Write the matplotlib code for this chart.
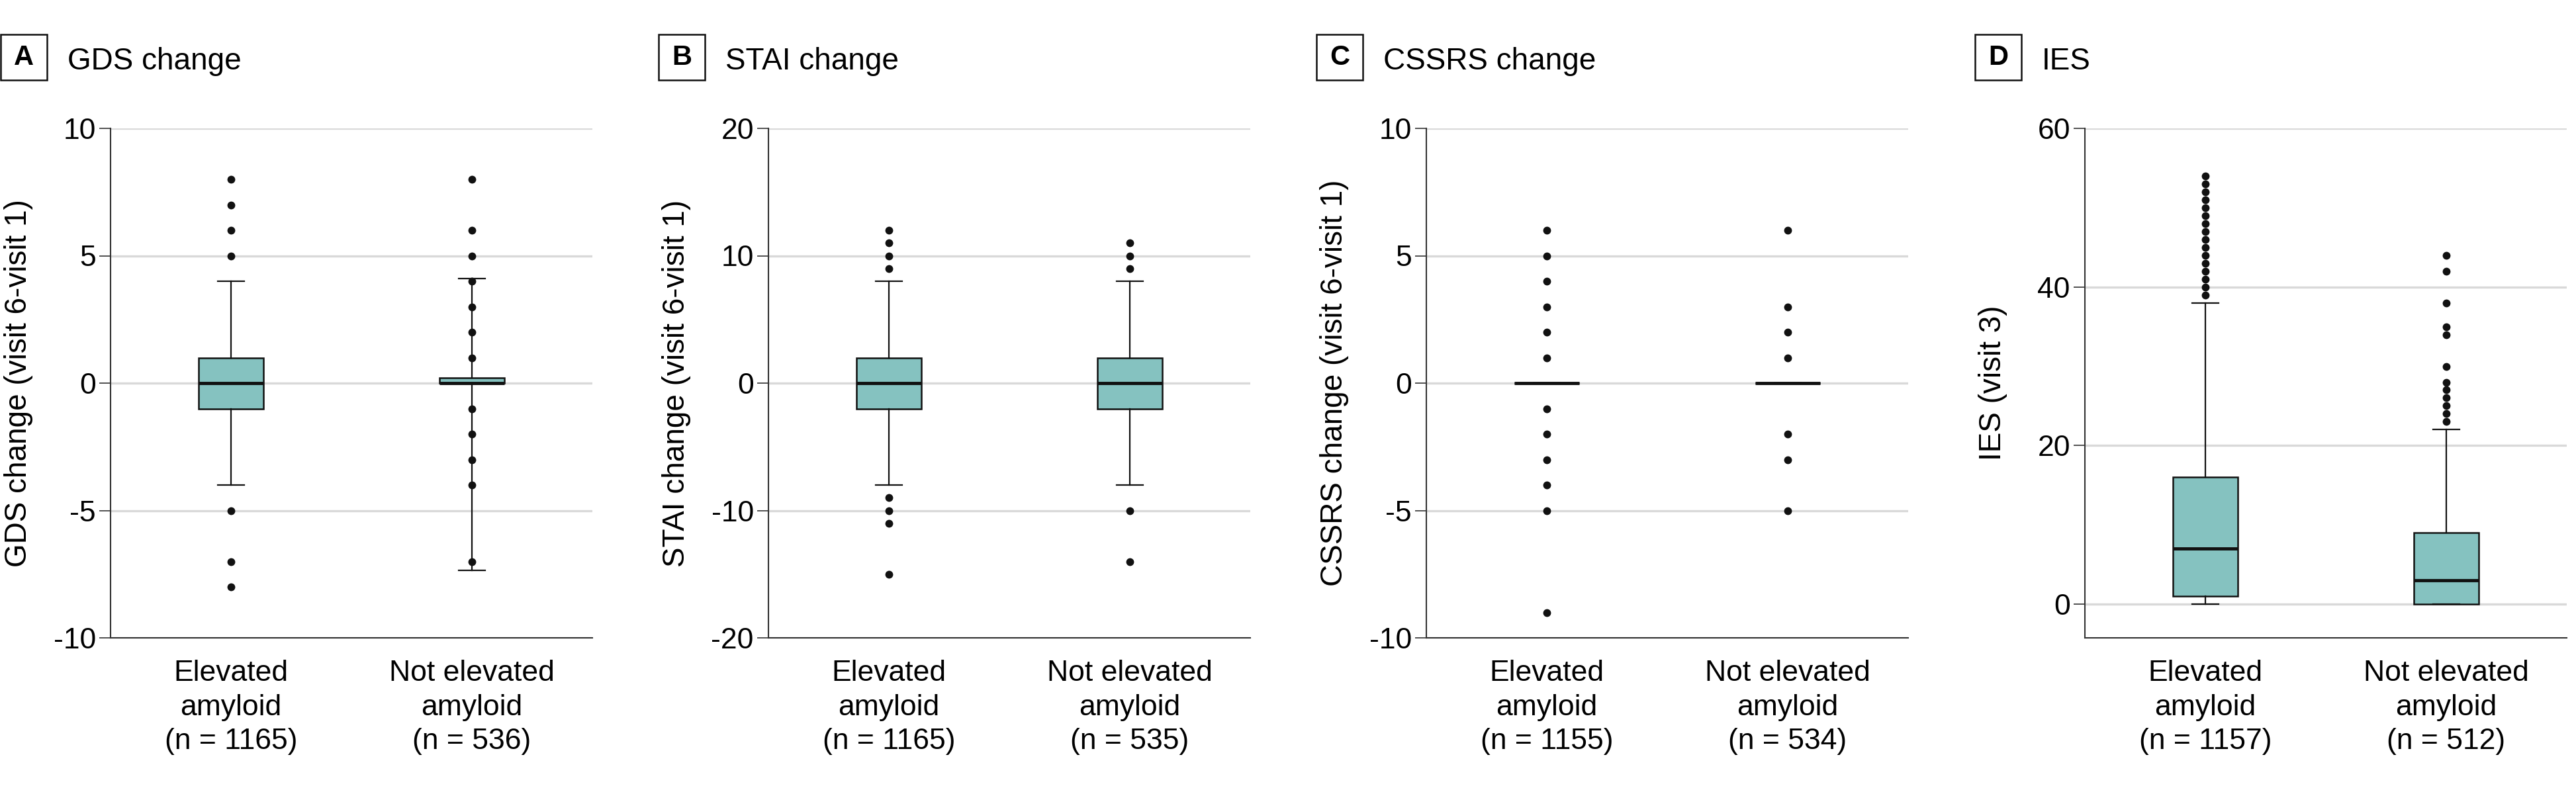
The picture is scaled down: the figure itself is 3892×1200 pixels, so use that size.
import matplotlib
matplotlib.use("Agg")
import matplotlib.pyplot as plt
from matplotlib.patches import Rectangle

plt.rcParams['font.family'] = ['Liberation Sans', 'DejaVu Sans']
plt.rcParams['axes.unicode_minus'] = False

W, H = 3892, 1200

# group labels per panel
gds_groups = ['Elevated\namyloid\n(n = 1165)', 'Not elevated\namyloid\n(n = 536)']
stai_groups = ['Elevated\namyloid\n(n = 1165)', 'Not elevated\namyloid\n(n = 535)']
cssrs_groups = ['Elevated\namyloid\n(n = 1155)', 'Not elevated\namyloid\n(n = 534)']
ies_groups = ['Elevated\namyloid\n(n = 1157)', 'Not elevated\namyloid\n(n = 512)']

# GDS change
gds_med = [0, 0]
gds_q1 = [-1, 0]
gds_q3 = [1, 0.2]
gds_lo = [-4, -7.35]
gds_hi = [4, 4.1]
gds_out = [[8, 7, 6, 5, -5, -7, -8],
           [8, 6, 5, 4, 3, 2, 1, -1, -2, -3, -4, -7]]

# STAI change
stai_med = [0, 0]
stai_q1 = [-2, -2]
stai_q3 = [2, 2]
stai_lo = [-8, -8]
stai_hi = [8, 8]
stai_out = [[12, 11, 10, 9, -9, -10, -11, -15],
            [11, 10, 9, -10, -14]]

# CSSRS change
cssrs_med = [0, 0]
cssrs_q1 = [0, 0]
cssrs_q3 = [0, 0]
cssrs_lo = [0, 0]
cssrs_hi = [0, 0]
cssrs_out = [[6, 5, 4, 3, 2, 1, -1, -2, -3, -4, -5, -9],
             [6, 3, 2, 1, -2, -3, -5]]

# IES
ies_med = [7, 3]
ies_q1 = [1, 0]
ies_q3 = [16, 9]
ies_lo = [0, 0]
ies_hi = [38, 22]
ies_out = [[39, 40, 41, 42, 43, 44, 45, 46, 47, 48, 49, 50, 51, 52, 53, 54],
           [44, 42, 38, 35, 34, 30, 28, 27, 26, 25, 24, 23]]

panels = [
    ('A', 'GDS change', 'GDS change (visit 6-visit 1)', gds_groups,
     gds_med, gds_q1, gds_q3, gds_lo, gds_hi, gds_out, (-10, 10), [-10, -5, 0, 5, 10]),
    ('B', 'STAI change', 'STAI change (visit 6-visit 1)', stai_groups,
     stai_med, stai_q1, stai_q3, stai_lo, stai_hi, stai_out, (-20, 20), [-20, -10, 0, 10, 20]),
    ('C', 'CSSRS change', 'CSSRS change (visit 6-visit 1)', cssrs_groups,
     cssrs_med, cssrs_q1, cssrs_q3, cssrs_lo, cssrs_hi, cssrs_out, (-10, 10), [-10, -5, 0, 5, 10]),
    ('D', 'IES', 'IES (visit 3)', ies_groups,
     ies_med, ies_q1, ies_q3, ies_lo, ies_hi, ies_out, (-4.25, 60), [0, 20, 40, 60]),
]

lefts = [167, 1161, 2155, 3150]
ax_w, ax_top, ax_bot = 728, 194, 964

fill = '#85c2c0'
ink = '#111111'
grid = '#d9d9d9'

fig = plt.figure(figsize=(W / 100, H / 100), dpi=100)

for left, (letter, title, ylab, groups, med, q1, q3, lo, hi, out, ylim, yticks) in zip(lefts, panels):
    ax = fig.add_axes([left / W, 1 - ax_bot / H, ax_w / W, (ax_bot - ax_top) / H])
    stats = []
    for i in range(2):
        stats.append(dict(med=med[i], q1=q1[i], q3=q3[i], whislo=lo[i],
                          whishi=hi[i], fliers=out[i], label=groups[i]))
    ax.bxp(stats, positions=[0, 1], widths=0.27, patch_artist=True,
           boxprops=dict(facecolor=fill, edgecolor=ink, linewidth=1.8),
           medianprops=dict(color=ink, linewidth=3.5),
           whiskerprops=dict(color=ink, linewidth=1.6),
           capprops=dict(color=ink, linewidth=1.6),
           capwidths=0.11,
           flierprops=dict(marker='o', markerfacecolor=ink, markeredgecolor=ink,
                           markersize=7.5, linestyle='none'))
    ax.set_xlim(-0.5, 1.5)
    ax.set_ylim(*ylim)
    ax.set_yticks(yticks)
    ax.yaxis.grid(True, color=grid, linewidth=2.4)
    ax.set_axisbelow(True)
    for s in ['top', 'right']:
        ax.spines[s].set_visible(False)
    for s in ['left', 'bottom']:
        ax.spines[s].set_color('#333333')
        ax.spines[s].set_linewidth(1.5)
    ax.tick_params(axis='y', direction='out', length=12, width=1.2, color='#333333',
                   labelsize=32, pad=4)
    ax.tick_params(axis='x', length=0, labelsize=32, pad=24)
    for t in ax.get_xticklabels():
        t.set_linespacing(1.32)
    ax.set_ylabel(ylab, fontsize=33, va='center')
    ax.yaxis.set_label_coords(-0.191, 0.5)

    # panel letter box and title
    fig.patches.append(Rectangle(((left - 166) / W, 1 - 121 / H), 70 / W, 69 / H,
                                 transform=fig.transFigure, facecolor='white',
                                 edgecolor=ink, linewidth=1.8))
    fig.text((left - 131) / W, 1 - 86.5 / H, letter, fontsize=30, fontweight='bold',
             ha='center', va='center')
    fig.text((left - 65) / W, 1 - 105 / H, title, fontsize=33, ha='left', va='baseline')

fig.savefig('out.png', dpi=100, facecolor='white')
